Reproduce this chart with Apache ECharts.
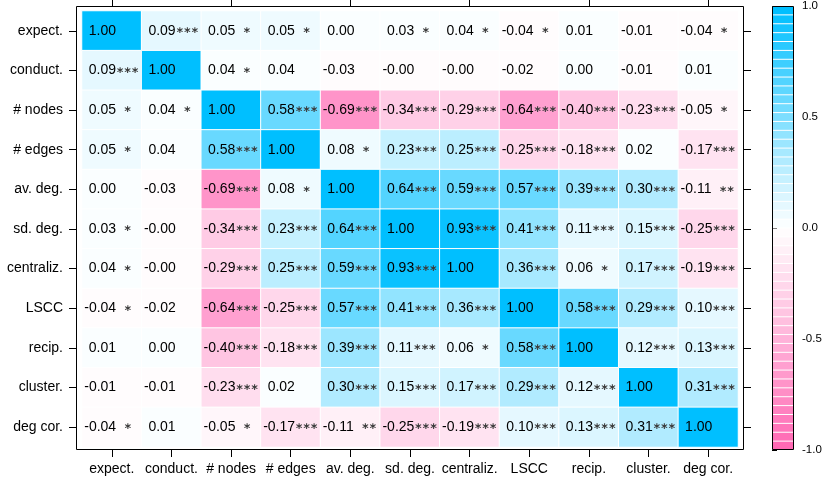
<!DOCTYPE html>
<html><head><meta charset="UTF-8">
<title>Correlation matrix</title>
<script src="https://cdn.jsdelivr.net/npm/echarts@6/dist/echarts.min.js"></script>
<style>html,body{margin:0;padding:0;background:#fff;}</style>
</head>
<body>
<div id="g1" style="width:831px;height:481px;"></div>
<script type="text/javascript">
// variable names, top row first
var labels = ['expect.', 'conduct.', '# nodes', '# edges', 'av. deg.', 'sd. deg.',
              'centraliz.', 'LSCC', 'recip.', 'cluster.', 'deg cor.'];

// correlations ("-0.00" kept as a tiny negative)
var corr = [
  [ 1.00,  0.09,  0.05,  0.05,  0.001,  0.03,  0.04, -0.04,  0.01, -0.01, -0.04],
  [ 0.09,  1.00,  0.04,  0.04, -0.03, -0.001, -0.001, -0.02, 0.001, -0.01,  0.01],
  [ 0.05,  0.04,  1.00,  0.58, -0.69, -0.34, -0.29, -0.64, -0.40, -0.23, -0.05],
  [ 0.05,  0.04,  0.58,  1.00,  0.08,  0.23,  0.25, -0.25, -0.18,  0.02, -0.17],
  [ 0.001, -0.03, -0.69, 0.08,  1.00,  0.64,  0.59,  0.57,  0.39,  0.30, -0.11],
  [ 0.03, -0.001, -0.34, 0.23,  0.64,  1.00,  0.93,  0.41,  0.11,  0.15, -0.25],
  [ 0.04, -0.001, -0.29, 0.25,  0.59,  0.93,  1.00,  0.36,  0.06,  0.17, -0.19],
  [-0.04, -0.02, -0.64, -0.25,  0.57,  0.41,  0.36,  1.00,  0.58,  0.29,  0.10],
  [ 0.01,  0.001, -0.40, -0.18, 0.39,  0.11,  0.06,  0.58,  1.00,  0.12,  0.13],
  [-0.01, -0.01, -0.23,  0.02,  0.30,  0.15,  0.17,  0.29,  0.12,  1.00,  0.31],
  [-0.04,  0.01, -0.05, -0.17, -0.11, -0.25, -0.19,  0.10,  0.13,  0.31,  1.00]
];

// significance marks
var stars = [
  ['',    '***', '*',   '*',   '',    '*',   '*',   '*',   '',    '',    '*'  ],
  ['***', '',    '*',   '',    '',    '',    '',    '',    '',    '',    ''   ],
  ['*',   '*',   '',    '***', '***', '***', '***', '***', '***', '***', '*'  ],
  ['*',   '',    '***', '',    '*',   '***', '***', '***', '***', '',    '***'],
  ['',    '',    '***', '*',   '',    '***', '***', '***', '***', '***', '**' ],
  ['*',   '',    '***', '***', '***', '',    '***', '***', '***', '***', '***'],
  ['*',   '',    '***', '***', '***', '***', '',    '***', '*',   '***', '***'],
  ['*',   '',    '***', '***', '***', '***', '***', '',    '***', '***', '***'],
  ['',    '',    '***', '***', '***', '***', '*',   '***', '',    '***', '***'],
  ['',    '',    '***', '',    '***', '***', '***', '***', '***', '',    '***'],
  ['*',   '',    '*',   '***', '**',  '***', '***', '***', '***', '***', ''   ]
];

// colour key: 50 bands from hotpink through white to deepskyblue
var nBands = 50;
var lowRGB = [255, 105, 180], midRGB = [255, 255, 255], highRGB = [0, 191, 255];
function rampColor(t) {
  var a, b, s;
  if (t <= 0.5) { a = lowRGB; b = midRGB; s = t / 0.5; }
  else { a = midRGB; b = highRGB; s = (t - 0.5) / 0.5; }
  var c = [0, 1, 2].map(function (k) { return Math.round(a[k] + (b[k] - a[k]) * s); });
  return 'rgb(' + c.join(',') + ')';
}
var bands = [];
var pieces = [];
for (var k = 0; k < nBands; k++) {
  var lo = -1 + 2 * k / nBands, hi = -1 + 2 * (k + 1) / nBands;
  var col = rampColor(k / (nBands - 1));
  bands.push([lo, hi, k]);
  if (k === nBands - 1) pieces.push({gte: lo, lte: 1.001, color: col});
  else if (k === 0) pieces.push({gte: -1.001, lt: hi, color: col});
  else pieces.push({gte: lo, lt: hi, color: col});
}
var bandColors = pieces.map(function (p) { return p.color; });

var starText = {'': '', '*': ' \u2217 ', '**': ' \u2217\u2217', '***': '\u2217\u2217\u2217'};

var cells = [];
for (var i = 0; i < labels.length; i++) {
  for (var j = 0; j < labels.length; j++) {
    cells.push([j, i, corr[i][j], stars[i][j]]);
  }
}

var font = 'Liberation Sans, Arial, sans-serif';

var option = {
  animation: false,
  backgroundColor: '#fff',
  grid: [
    {left: 82, top: 11, width: 656, height: 436},
    {left: 772, top: 6, width: 21, height: 444}
  ],
  xAxis: [
    {type: 'category', gridIndex: 0, data: labels, position: 'bottom', offset: 3,
     axisLine: {show: false}, splitLine: {show: false},
     axisTick: {show: true, alignWithLabel: true, length: 7, lineStyle: {color: '#000'}},
     axisLabel: {color: '#000', fontSize: 14, fontFamily: font, margin: 12, interval: 0}},
    {type: 'category', gridIndex: 0, data: labels, position: 'top', offset: 5,
     axisLine: {show: false}, splitLine: {show: false},
     axisTick: {show: true, alignWithLabel: true, length: 7, lineStyle: {color: '#000'}},
     axisLabel: {show: false}},
    {type: 'value', gridIndex: 1, min: 0, max: 1, show: false}
  ],
  yAxis: [
    {type: 'category', gridIndex: 0, data: labels, inverse: true, position: 'left', offset: 6,
     axisLine: {show: false}, splitLine: {show: false},
     axisTick: {show: true, alignWithLabel: true, length: 7, lineStyle: {color: '#000'}},
     axisLabel: {color: '#000', fontSize: 14, fontFamily: font, margin: 13, interval: 0}},
    {type: 'category', gridIndex: 0, data: labels, inverse: true, position: 'right', offset: 6,
     axisLine: {show: false}, splitLine: {show: false},
     axisTick: {show: true, alignWithLabel: true, length: 7, lineStyle: {color: '#000'}},
     axisLabel: {show: false}},
    {type: 'value', gridIndex: 1, min: -1, max: 1, interval: 0.5, position: 'right',
     axisLine: {show: false}, splitLine: {show: false},
     axisTick: {show: true, length: 5, lineStyle: {color: '#000'}},
     axisLabel: {color: '#000', fontSize: 11.5, fontFamily: font, margin: 9,
                 formatter: function (v) { return v.toFixed(1); }}}
  ],
  visualMap: {
    type: 'piecewise', show: false, seriesIndex: 0, dimension: 2, pieces: pieces
  },
  graphic: [
    {type: 'rect', z: 100, silent: true,
     shape: {x: 76.5, y: 6.5, width: 667, height: 443},
     style: {fill: null, stroke: '#000', lineWidth: 1}},
    {type: 'rect', z: 100, silent: true,
     shape: {x: 772.5, y: 6.5, width: 21, height: 443},
     style: {fill: null, stroke: '#000', lineWidth: 1}}
  ],
  series: [
    {
      type: 'heatmap',
      xAxisIndex: 0, yAxisIndex: 0,
      data: cells,
      itemStyle: {borderColor: '#fff', borderWidth: 1},
      emphasis: {disabled: true},
      label: {
        show: true,
        position: 'insideLeft',
        distance: 3,
        formatter: function (p) {
          var v = p.data[2];
          var s = v.toFixed(2);
          var head = v < 0 ? '{n|' + s + '}' : '{p|' + s + '}';
          var st = starText[p.data[3]];
          return st ? head + '{s|' + st + '}' : head;
        },
        rich: {
          n: {fontSize: 14, color: '#000', fontFamily: font},
          p: {fontSize: 14, color: '#000', fontFamily: font, padding: [0, 0, 0, 4.5]},
          s: {fontSize: 12.5, color: '#3a3a3a', fontWeight: 'bold',
              fontFamily: 'DejaVu Sans Mono, monospace', padding: [0, 0, 0, 0.5]}
        }
      }
    },
    {
      type: 'custom',
      xAxisIndex: 2, yAxisIndex: 2,
      data: bands,
      silent: true,
      renderItem: function (params, api) {
        var lo = api.value(0), hi = api.value(1);
        var a = api.coord([0, hi]);
        var b = api.coord([1, lo]);
        return {
          type: 'rect',
          shape: {x: a[0], y: a[1] + 0.5, width: b[0] - a[0], height: b[1] - a[1] - 1},
          style: {fill: bandColors[api.value(2)]}
        };
      }
    }
  ]
};

var myChart = echarts.init(document.getElementById('g1'));
myChart.setOption(option);
</script>
</body></html>
